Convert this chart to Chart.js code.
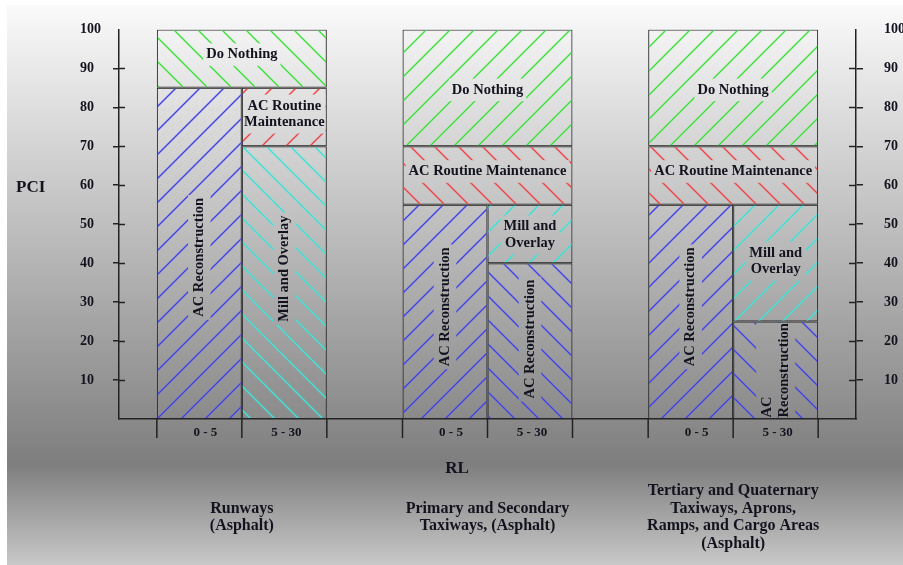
<!DOCTYPE html>
<html>
<head>
<meta charset="utf-8">
<script src="https://cdn.jsdelivr.net/npm/chart.js@4.4.1/dist/chart.umd.min.js"></script>
<style>
  html, body { margin: 0; padding: 0; background: #fff; }
  canvas { display: block; }
</style>
</head>
<body>
<canvas id="pciChart" width="903" height="565"></canvas>
<script>
// pavement areas (one group of bars each)
const areaLabels = [
  ['Runways', '(Asphalt)'],
  ['Primary and Secondary', 'Taxiways, (Asphalt)'],
  ['Tertiary and Quaternary', 'Taxiways, Aprons,', 'Ramps, and Cargo Areas', '(Asphalt)']
];
// RL columns inside each group
const rlLabels = ['0 - 5', '5 - 30'];
const pciTicks = [10, 20, 30, 40, 50, 60, 70, 80, 90, 100];

// PCI ranges [from, to] per area
const doNothing   = [[85, 100], [70, 100], [70, 100]];
const routineWide = [null, [55, 70], [55, 70]];
const reconLow    = [[0, 85], [0, 55], [0, 55]];
const millHigh    = [[0, 70], [40, 55], [25, 55]];
const routineHigh = [[70, 85], null, null];
const reconHigh   = [null, [0, 40], [0, 25]];

const SERIF = '"Liberation Serif", "Times New Roman", serif';
const INK = '#13131f';
const green = '#3fe23f', red = '#f04646', blue = '#4444ec', cyan = '#3ae4da';

// diagonal line fill
function hatch(color, dir) {
  const s = 24;
  const c = document.createElement('canvas');
  c.width = s; c.height = s;
  const g = c.getContext('2d');
  g.strokeStyle = color;
  g.lineWidth = 1.5;
  g.beginPath();
  for (let k = -1; k <= 2; k++) {
    if (dir === '/') { g.moveTo(-s, k * s + s); g.lineTo(2 * s, k * s - 2 * s); }
    else { g.moveTo(-s, k * s - s); g.lineTo(2 * s, k * s + 2 * s); }
  }
  g.stroke();
  return g.createPattern(c, 'repeat');
}

const barStyle = {
  borderColor: '#262626',
  borderWidth: 1,
  borderSkipped: false,
  categoryPercentage: 0.692,
  barPercentage: 1
};

// full-width boxes are not grouped, so they span both RL columns
const datasets = [
  { ...barStyle, label: 'Do Nothing', data: doNothing, grouped: false,
    backgroundColor: [hatch(green, '\\'), hatch(green, '/'), hatch(green, '/')],
    boxText: ['Do Nothing', 'Do Nothing', 'Do Nothing'], boxTurn: [false, false, false], boxShift: [-4, 2, 2] },
  { ...barStyle, label: 'AC Routine Maintenance', data: routineWide, grouped: false,
    backgroundColor: [hatch(red, '\\'), hatch(red, '\\'), hatch(red, '\\')],
    boxText: [null, 'AC Routine Maintenance', 'AC Routine Maintenance'], boxTurn: [false, false, false], boxShift: [0, -4, -4] },
  { ...barStyle, label: 'AC Reconstruction', data: reconLow, stack: 'low',
    backgroundColor: [hatch(blue, '/'), hatch(blue, '/'), hatch(blue, '/')],
    boxText: ['AC Reconstruction', 'AC Reconstruction', 'AC Reconstruction'], boxTurn: [true, true, true], boxShift: [4, -5, -5] },
  { ...barStyle, label: 'Mill and Overlay', data: millHigh, stack: 'high',
    backgroundColor: [hatch(cyan, '\\'), hatch(cyan, '/'), hatch(cyan, '/')],
    boxText: ['Mill and Overlay', ['Mill and', 'Overlay'], ['Mill and', 'Overlay']], boxTurn: [true, false, false], boxShift: [-14, 1, -2] },
  { ...barStyle, label: 'AC Routine Maintenance', data: routineHigh, stack: 'high',
    backgroundColor: [hatch(red, '/'), hatch(red, '/'), hatch(red, '/')],
    boxText: [['AC Routine', 'Maintenance'], null, null], boxTurn: [false, false, false], boxShift: [-3, 0, 0] },
  { ...barStyle, label: 'AC Reconstruction', data: reconHigh, stack: 'high',
    backgroundColor: [hatch(blue, '\\'), hatch(blue, '\\'), hatch(blue, '\\')],
    boxText: [null, 'AC Reconstruction', ['AC', 'Reconstruction']], boxTurn: [true, true, true], boxShift: [0, -2, 0],
    boxLeft: [false, false, true] }
];

const paintBackground = {
  id: 'paintBackground',
  beforeDraw(chart) {
    const { ctx, width, height } = chart;
    if (!chart.$bg) {
      const g = ctx.createLinearGradient(0, 5, 0, height);
      g.addColorStop(0, '#fafafa');
      g.addColorStop(0.82, '#7e7e7e');
      g.addColorStop(1, '#c8c8c8');
      chart.$bg = g;
    }
    ctx.save();
    ctx.fillStyle = '#ffffff';
    ctx.fillRect(0, 0, width, height);
    ctx.fillStyle = chart.$bg;
    ctx.fillRect(7, 5, width - 7, height - 5);
    ctx.restore();
  }
};

function line(ctx, x1, y1, x2, y2) {
  ctx.beginPath();
  ctx.moveTo(x1, y1);
  ctx.lineTo(x2, y2);
  ctx.stroke();
}

const annotate = {
  id: 'annotate',
  afterDatasetsDraw(chart) {
    const ctx = chart.ctx;
    ctx.save();
    ctx.font = 'bold 14.5px ' + SERIF;
    ctx.textBaseline = 'middle';
    const lh = 16.5;
    chart.data.datasets.forEach((ds, di) => {
      const meta = chart.getDatasetMeta(di);
      meta.data.forEach((bar, i) => {
        if (!ds.data[i] || !ds.boxText[i]) return;
        const p = bar.getProps(['x', 'y', 'base', 'width'], true);
        const top = Math.min(p.y, p.base), bottom = Math.max(p.y, p.base);
        const lines = [].concat(ds.boxText[i]);
        const cx = p.x, cy = (top + bottom) / 2 + (ds.boxShift ? ds.boxShift[i] : 0);
        const w = Math.max(...lines.map(l => ctx.measureText(l).width));
        const h = lines.length * lh;
        const turn = ds.boxTurn[i];
        // clear the hatch behind the text
        let gw = (turn ? h : w) + 6, gh = (turn ? w : h) + 6;
        let gx = cx - gw / 2, gy = cy - gh / 2;
        const l = p.x - p.width / 2 + 1.5, r = p.x + p.width / 2 - 1.5;
        const gx2 = Math.min(gx + gw, r), gy2 = Math.min(gy + gh, bottom - 1.5);
        gx = Math.max(gx, l); gy = Math.max(gy, top + 1.5);
        ctx.fillStyle = chart.$bg;
        ctx.fillRect(gx, gy, gx2 - gx, gy2 - gy);
        ctx.save();
        ctx.translate(cx, cy);
        if (turn) ctx.rotate(-Math.PI / 2);
        ctx.fillStyle = INK;
        const left = ds.boxLeft && ds.boxLeft[i];
        ctx.textAlign = left ? 'left' : 'center';
        lines.forEach((t, k) => {
          ctx.fillText(t, left ? -w / 2 : 0, (k - (lines.length - 1) / 2) * lh);
        });
        ctx.restore();
      });
    });
    ctx.restore();
  },
  afterDraw(chart) {
    const { ctx, chartArea: area } = chart;
    const sy = chart.scales.y;
    ctx.save();
    ctx.strokeStyle = '#222';
    ctx.lineWidth = 1.5;
    // inner halves of the tick marks
    pciTicks.filter(v => v < 100).forEach(v => {
      const py = Math.round(sy.getPixelForValue(v)) + 0.5;
      line(ctx, area.left, py, area.left + 6, py);
      line(ctx, area.right - 7, py, area.right, py);
    });
    // RL column dividers and labels under the baseline
    const low = chart.getDatasetMeta(2), high = chart.getDatasetMeta(3);
    ctx.fillStyle = INK;
    ctx.textBaseline = 'middle';
    ctx.textAlign = 'center';
    ctx.font = 'bold 13px ' + SERIF;
    areaLabels.forEach((_, i) => {
      const a = low.data[i].getProps(['x', 'width'], true);
      const b = high.data[i].getProps(['x', 'width'], true);
      [a.x - a.width / 2, a.x + a.width / 2, b.x + b.width / 2].forEach(ex => {
        line(ctx, ex, area.bottom, ex, area.bottom + 19);
      });
      ctx.fillText(rlLabels[0], a.x + 6, area.bottom + 14);
      ctx.fillText(rlLabels[1], b.x + 2, area.bottom + 14);
    });
    ctx.font = 'bold 17px ' + SERIF;
    ctx.fillText('RL', area.left + 338, area.bottom + 50);
    ctx.textAlign = 'left';
    ctx.fillText('PCI', 16, sy.getPixelForValue(59.5));
    ctx.restore();
  }
};

const tickFont = { family: SERIF, size: 14, weight: 'bold' };
const tickColor = c => (c.tick && c.tick.value === 100 ? 'rgba(0,0,0,0)' : '#222');

new Chart(document.getElementById('pciChart'), {
  type: 'bar',
  data: { labels: areaLabels, datasets: datasets },
  options: {
    responsive: false,
    animation: false,
    events: [],
    layout: { padding: { left: 80, right: 0, top: 26, bottom: 0 } },
    plugins: { legend: { display: false }, tooltip: { enabled: false } },
    scales: {
      x: {
        type: 'category', position: 'bottom', stacked: true, offset: true,
        grid: { display: false, drawTicks: false },
        border: { display: true, color: '#222', width: 1.5 },
        ticks: {
          font: { family: SERIF, size: 16, weight: 'bold', lineHeight: 1.1 },
          color: INK, padding: 72, crossAlign: 'center', maxRotation: 0, autoSkip: false
        },
        afterFit: s => { s.height = 146; }
      },
      y: {
        position: 'left', min: 0, max: 100, stacked: false,
        afterBuildTicks: s => { s.ticks = pciTicks.map(v => ({ value: v })); },
        grid: { drawOnChartArea: false, drawTicks: true, tickLength: 6, lineWidth: 1.5, color: tickColor },
        border: { color: '#222', width: 1.5 },
        ticks: { crossAlign: 'far', font: tickFont, color: INK },
        afterFit: s => { s.width = 39; }
      },
      y2: {
        position: 'right', min: 0, max: 100,
        afterBuildTicks: s => { s.ticks = pciTicks.map(v => ({ value: v })); },
        grid: { drawOnChartArea: false, drawTicks: true, tickLength: 7, lineWidth: 1.5, color: tickColor },
        border: { color: '#222', width: 1.5 },
        ticks: { padding: 21, font: tickFont, color: INK },
        afterFit: s => { s.width = 47; }
      }
    }
  },
  plugins: [paintBackground, annotate]
});
</script>
</body>
</html>
